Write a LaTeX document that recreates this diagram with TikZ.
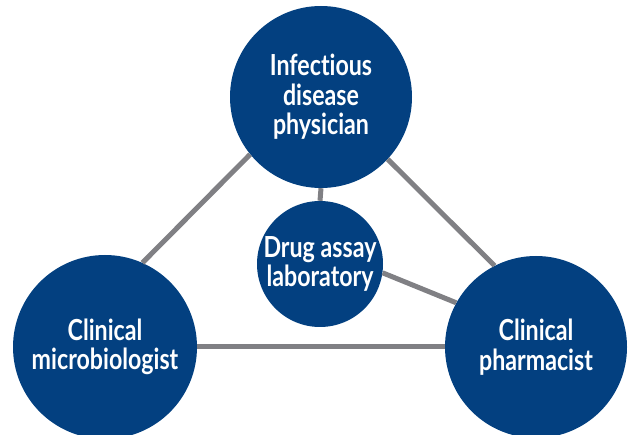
\documentclass[tikz,border=0pt]{standalone}
\usepackage{fontspec}
\setmainfont[FakeStretch=0.8,Ligatures=NoCommon]{Lato}
\usepackage{xcolor}
\usetikzlibrary{positioning}
\definecolor{teamblue}{RGB}{3,64,128}
\definecolor{linkgray}{RGB}{128,128,132}

\begin{document}
\begin{tikzpicture}[x=1pt,y=1pt]
	\tikzstyle{node_style} = [circle,fill=teamblue,text=white,align=center,inner sep=0pt,
		font=\bfseries\fontsize{29}{29.5}\selectfont]
	\tikzstyle{edge_style} = [draw=linkgray,line width=5pt]
	\useasboundingbox (0,0) rectangle (632,434);
		\node[node_style,minimum size=182pt] (idp) at (321,337) {Infectious\\disease\\physician};
		\node[node_style,minimum size=126pt] (lab) at (320,170) {Drug assay\\laboratory};
		\node[node_style,minimum size=184pt] (mic) at (105,87) {Clinical\\microbiologist};
		\node[node_style,minimum size=182pt] (pha) at (536,87) {Clinical\\pharmacist};
		\draw[edge_style]  (idp.219) edge (mic.66);
		\draw[edge_style]  (idp.-43) edge (pha.117);
		\draw[edge_style]  (idp.-90) edge (lab.90);
		\draw[edge_style]  (lab.-8) edge (pha.151);
		\draw[edge_style]  (mic.0) edge (pha.180);
\end{tikzpicture}
\end{document}
